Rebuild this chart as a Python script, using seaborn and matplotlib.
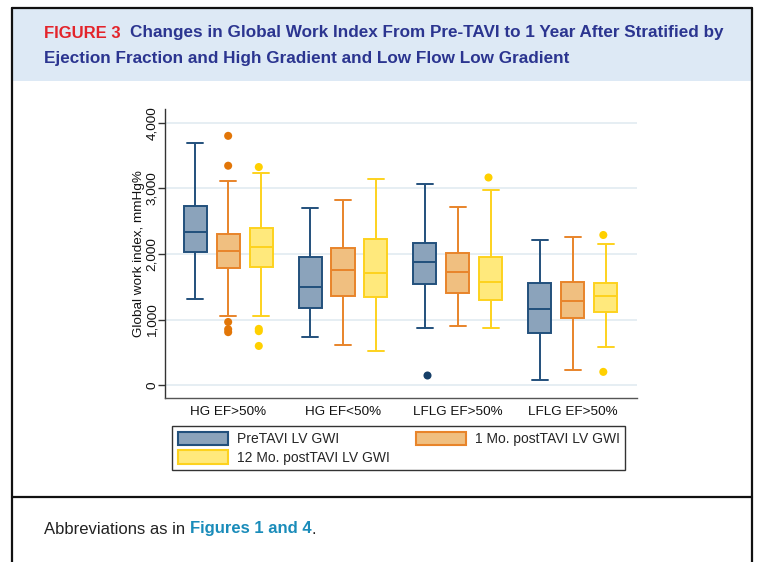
import numpy as np
import pandas as pd
import seaborn as sns
import matplotlib.pyplot as plt
from matplotlib.patches import Patch, Rectangle
from matplotlib.lines import Line2D
from matplotlib.ticker import FuncFormatter

# ---- data -------------------------------------------------------------
categories = ["HG EF>50%", "HG EF<50%", "LFLG EF>50%", "LFLG EF<50%"]
tick_labels = ["HG EF>50%", "HG EF<50%", "LFLG EF>50%", "LFLG EF>50%"]
series = ["PreTAVI LV GWI", "1 Mo. postTAVI LV GWI", "12 Mo. postTAVI LV GWI"]

# five-number summaries per category: lower whisker, Q1, median, Q3, upper whisker
pre_gwi = [[1320, 2035, 2330, 2725, 3690],
           [735, 1180, 1500, 1960, 2705],
           [870, 1540, 1880, 2170, 3065],
           [85, 800, 1160, 1565, 2220]]
one_mo_gwi = [[1055, 1790, 2045, 2310, 3110],
              [620, 1355, 1750, 2085, 2820],
              [910, 1400, 1720, 2015, 2715],
              [240, 1020, 1280, 1580, 2265]]
twelve_mo_gwi = [[1055, 1805, 2110, 2390, 3240],
                 [525, 1350, 1710, 2225, 3145],
                 [875, 1300, 1570, 1960, 2975],
                 [585, 1115, 1365, 1555, 2155]]

# outlying observations per category
pre_outliers = [[], [], [150], []]
one_mo_outliers = [[3800, 3345, 965, 855, 810], [], [], []]
twelve_mo_outliers = [[3325, 860, 825, 600], [], [3170], [2290, 205]]

y_ticks = [0, 1000, 2000, 3000, 4000]

fill_colors = ["#8ba3bb", "#f0bf80", "#ffe97c"]
edge_colors = ["#22507c", "#e8842a", "#fdd21e"]
dot_colors = ["#163f68", "#e27608", "#ffd000"]

# ---- tidy tables --------------------------------------------------------
summary_rows = []
for s, table in zip(series, [pre_gwi, one_mo_gwi, twelve_mo_gwi]):
    for c, vals in zip(categories, table):
        for v in vals:
            summary_rows.append({"group": c, "series": s, "gwi": v})
summary_df = pd.DataFrame(summary_rows)

outlier_rows = []
for s, table in zip(series, [pre_outliers, one_mo_outliers, twelve_mo_outliers]):
    for c, vals in zip(categories, table):
        for v in vals:
            outlier_rows.append({"group": c, "series": s, "gwi": v})
outlier_df = pd.DataFrame(outlier_rows)

# ---- figure -------------------------------------------------------------
sns.set_style("white")
plt.rcParams["font.family"] = ["Liberation Sans", "DejaVu Sans"]

W, H = 757, 562
fig = plt.figure(figsize=(W / 100, H / 100), dpi=100)


def fx(px):
    return px / W


def fy(py):
    return 1 - py / H


# header band and frame
fig.add_artist(Rectangle((fx(12), fy(81)), fx(752) - fx(12), fy(8) - fy(81),
                         transform=fig.transFigure, facecolor="#dde9f5",
                         edgecolor="none", zorder=0))
frame_kw = dict(transform=fig.transFigure, color="#111111", linewidth=1.6)
fig.add_artist(Line2D([fx(12), fx(752)], [fy(8), fy(8)], **frame_kw))
fig.add_artist(Line2D([fx(12), fx(12)], [fy(8), 0], **frame_kw))
fig.add_artist(Line2D([fx(752), fx(752)], [fy(8), 0], **frame_kw))
fig.add_artist(Line2D([fx(12), fx(752)], [fy(497), fy(497)], **frame_kw))

title_font = ["Liberation Sans", "DejaVu Sans"]
t1 = fig.text(fx(44), fy(33), "FIGURE 3", color="#e3242b", fontsize=12,
              fontweight="bold", family=title_font, va="center")
fig.add_artist(plt.Annotation(
    "Changes in Global Work Index From Pre-TAVI to 1 Year After Stratified by",
    xy=(1, 0), xycoords=t1, xytext=(7, 0), textcoords="offset points",
    color="#2b3590", fontsize=12.3, fontweight="bold", family=title_font,
    va="bottom", ha="left"))
fig.text(fx(44), fy(58), "Ejection Fraction and High Gradient and Low Flow Low Gradient",
         color="#2b3590", fontsize=12.3, fontweight="bold", family=title_font,
         va="center")

c1 = fig.text(fx(44), fy(529), "Abbreviations as in ", color="#222222",
              fontsize=12, family=title_font, va="center")
c2 = fig.add_artist(plt.Annotation("Figures 1 and 4", xy=(1, 0), xycoords=c1,
                                   xytext=(0, 0), textcoords="offset points",
                                   color="#1a8cba", fontsize=12, fontweight="bold",
                                   family=title_font, va="bottom", ha="left"))
fig.add_artist(plt.Annotation(".", xy=(1, 0), xycoords=c2, xytext=(0, 0),
                              textcoords="offset points", color="#222222",
                              fontsize=12, family=title_font, va="bottom", ha="left"))

# ---- plot area -----------------------------------------------------------
ax = fig.add_axes([fx(165), fy(398), fx(637) - fx(165), fy(109) - fy(398)])

sns.boxplot(data=summary_df, x="group", y="gwi", hue="series",
            order=categories, hue_order=series, palette=fill_colors,
            saturation=1, width=0.86, gap=0.3, whis=(0, 100),
            linewidth=1.4, legend=False, ax=ax, capwidths=0.14)

for container, edge in zip(ax.containers, edge_colors):
    for b in container.boxes:
        b.set_edgecolor(edge)
        b.set_linewidth(1.4)
    for ln in list(container.medians) + list(container.whiskers) + list(container.caps):
        ln.set_color(edge)
        ln.set_linewidth(1.4)

sns.stripplot(data=outlier_df, x="group", y="gwi", hue="series",
              order=categories, hue_order=series, palette=dot_colors,
              dodge=True, jitter=False, size=5.8, linewidth=0,
              legend=False, ax=ax, zorder=5)

ax.set_xlim(-0.55, 3.56)
ax.set_ylim(-193, 4209)
ax.set_yticks(y_ticks)
ax.yaxis.set_major_formatter(FuncFormatter(lambda v, p: f"{int(v):,}"))
ax.set_xticks(range(len(categories)))
ax.set_xticklabels(tick_labels)
ax.tick_params(axis="x", length=0, pad=6, labelsize=9.7, labelcolor="#111111")
ax.tick_params(axis="y", length=5, width=1, color="#333333", pad=0,
               labelsize=9.7, labelcolor="#111111", left=True)
plt.setp(ax.get_yticklabels(), rotation=90, va="center")
ax.set_xlabel("")
ax.set_ylabel("Global work index, mmHg%", fontsize=9.7, color="#111111", labelpad=1)

ax.grid(axis="y", color="#e4edf2", linewidth=1.3)
ax.grid(axis="x", visible=False)
ax.set_axisbelow(True)
for side in ["top", "right"]:
    ax.spines[side].set_visible(False)
ax.spines["left"].set_color("#333333")
ax.spines["bottom"].set_color("#555555")
ax.spines["left"].set_linewidth(1)
ax.spines["bottom"].set_linewidth(1)

# ---- legend --------------------------------------------------------------
handles = [Patch(facecolor=f, edgecolor=e, linewidth=1.5)
           for f, e in zip(fill_colors, edge_colors)]
order = [0, 2, 1]
fig.legend([handles[i] for i in order], [series[i] for i in order],
           loc="upper left", ncol=2, bbox_to_anchor=(fx(172), fy(426)),
           frameon=True, fancybox=False, edgecolor="#333333", framealpha=1,
           borderaxespad=0, handlelength=3.6, handleheight=1.15,
           handletextpad=0.65, columnspacing=1.9, labelspacing=0.3,
           borderpad=0.4, fontsize=10)

fig.savefig("out.png", dpi=100)
